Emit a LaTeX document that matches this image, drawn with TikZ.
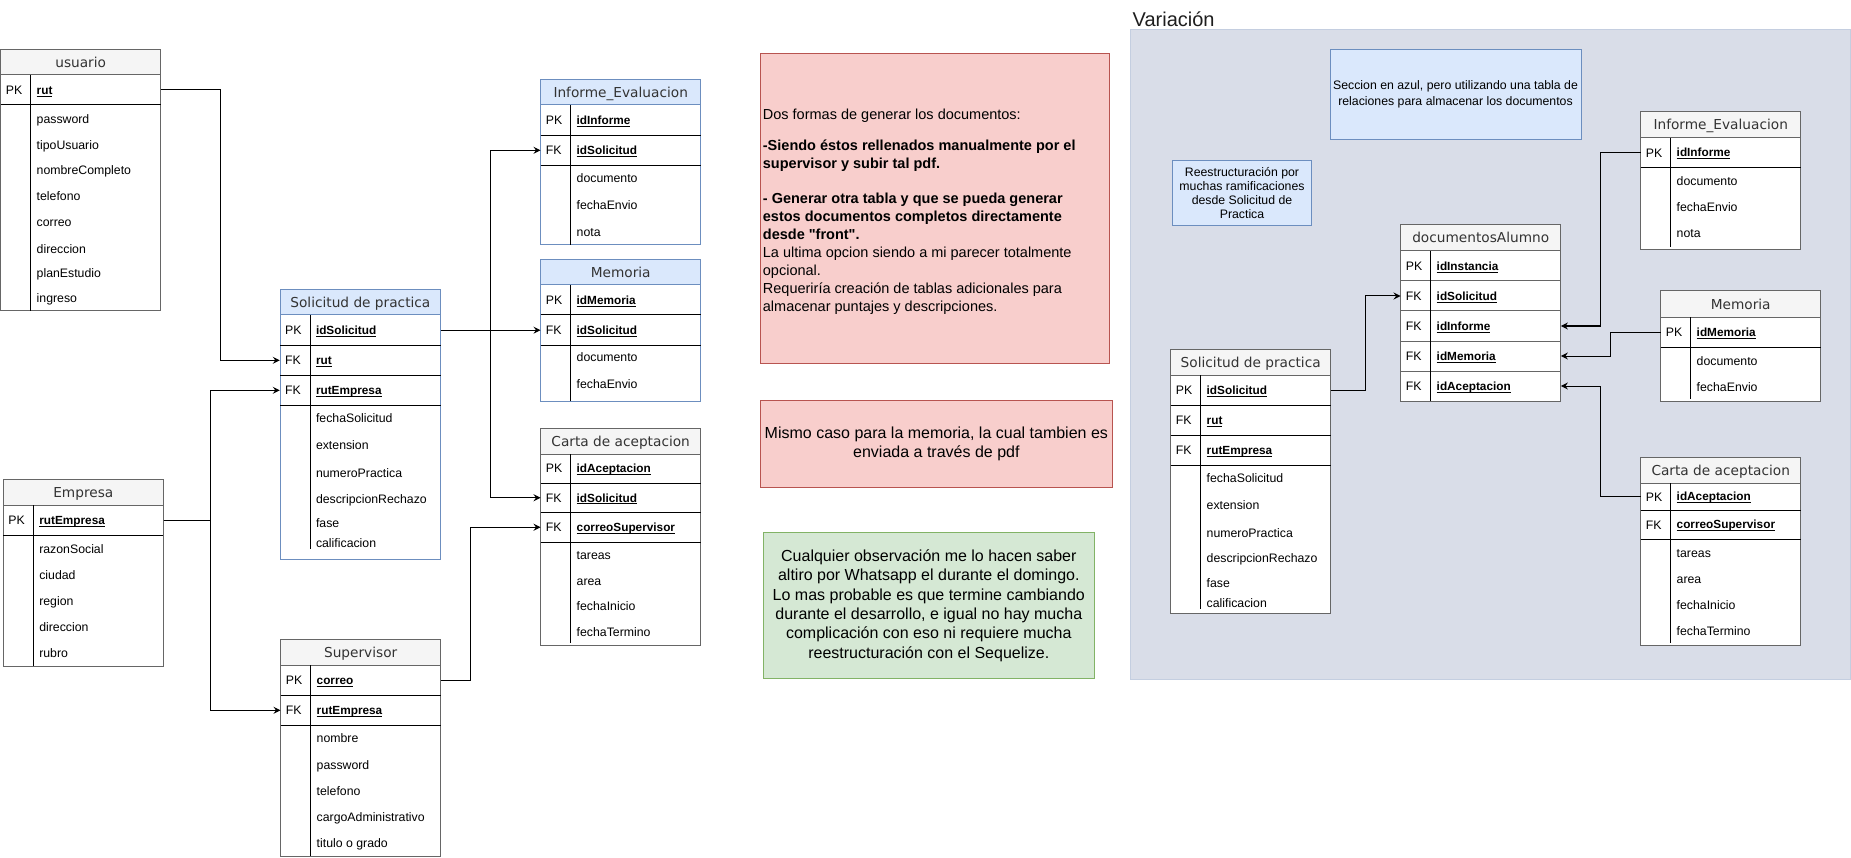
\documentclass[tikz,border=0pt]{standalone}
\usepackage{fontspec}
\setmainfont{Liberation Sans}
\newfontfamily\titlefont{DejaVu Sans}
\newfontfamily\quotefont{Liberation Sans}
\usetikzlibrary{arrows.meta,fit}

\definecolor{grayfill}{HTML}{F5F5F5}
\definecolor{graystroke}{HTML}{666666}
\definecolor{bluefill}{HTML}{DAE8FC}
\definecolor{bluestroke}{HTML}{6C8EBF}
\definecolor{redfill}{HTML}{F8CECC}
\definecolor{redstroke}{HTML}{B85450}
\definecolor{greenfill}{HTML}{D5E8D4}
\definecolor{greenstroke}{HTML}{82B366}
\definecolor{panelfill}{RGB}{217,221,232}
\definecolor{panelstroke}{RGB}{196,206,224}
\definecolor{titletext}{HTML}{333333}

\newlength\ulw
\newcommand\keyu[1]{\settowidth\ulw{#1}\rlap{\rule[-2.2pt]{\ulw}{0.9pt}}#1}

% name, x1, x2, ytop, ytitlebottom, ybottom, title, fill, stroke
\newcommand\ertable[9]{%
  \node[tblbody, draw=#9, fit={(#2,#4)(#3,#6)}] (#1) {};
  \node[tbltitle, fill=#8, draw=#9, fit={(#2,#4)(#3,#5)}] (#1-title) {};
  \node[titletxt] (#1-titletext) at ({(#2+#3)/2},{(#4+#5)/2}) {#7};
}
% name, x1, x2, ytop, ybottom, divx, tag, key, separator colour
\newcommand\keyrow[9]{%
  \node[rowbox, fit={(#2,#4)(#3,#5)}] (#1) {};
  \draw[draw=#9, line width=1pt] (#2,#5) -- (#3,#5);
  \draw[divline] (#6,#4) -- (#6,#5);
  \node[tagtxt] (#1-tag) at ({#2+5},{(#4+#5)/2}) {#7};
  \node[keytxt] (#1-key) at ({#6+5.8},{(#4+#5)/2}) {\keyu{#8}};
}
% name, x, y, text
\newcommand\fld[4]{\node[fldtxt] (#1) at (#2,#3) {#4};}

\begin{document}
\begin{tikzpicture}[x=1pt,y=-1pt,
  tblbody/.style={fill=white, line width=1pt, inner sep=0pt},
  tbltitle/.style={line width=1pt, inner sep=0pt},
  titletxt/.style={inner sep=0pt, font=\titlefont\fontsize{13.7}{16}\selectfont, text=titletext, text height=10pt, text depth=0pt},
  rowbox/.style={inner sep=0pt},
  divline/.style={line width=1pt, draw=black},
  tagtxt/.style={anchor=west, inner sep=0pt, font=\fontsize{12.3}{14}\selectfont, text height=8.8pt, text depth=0pt},
  keytxt/.style={anchor=west, inner sep=0pt, font=\bfseries\fontsize{11.8}{14}\selectfont, text height=8.5pt, text depth=0pt},
  fldtxt/.style={anchor=west, inner sep=0pt, font=\fontsize{12.3}{14}\selectfont, text height=8.8pt, text depth=0pt},
  conn/.style={line width=1pt, draw=black, -{Stealth[length=7pt,width=7pt,inset=2.5pt]}},
  notebox/.style={line width=1pt, inner sep=0pt},
  notetxt/.style={align=center, inner sep=0pt},
]
\useasboundingbox (0,0) rectangle (1851,858);
\fill[white] (0,0) rectangle (1851,858);

% ---------- Variation panel ----------
\node[notebox, fill=panelfill, draw=panelstroke, fit={(1130,29.3)(1850.5,679.3)}] (panel) {};
\node[anchor=west, inner sep=0pt, font=\fontsize{20}{24}\selectfont, text height=14.3pt, text depth=0pt, text={rgb,255:red,30;green,30;blue,30}] (vartitle) at (1132.5,19.7) {Variación};

% ---------- notes ----------
\node[notebox, fill=redfill, draw=redstroke, fit={(760,53.3)(1109.3,363.3)}] (note1) {};
\node[anchor=west, align=left, inner sep=0pt, font=\fontsize{14.5}{18}\selectfont] (note1text) at (762.7,212) {Dos formas de generar los documentos:\\[13.3pt]
\textbf{-Siendo éstos rellenados manualmente por el}\\
\textbf{supervisor y subir tal pdf.}\\[17pt]
\textbf{- Generar otra tabla y que se pueda generar}\\
\textbf{estos documentos completos directamente}\\
{\quotefont\bfseries desde "front".}\\
La ultima opcion siendo a mi parecer totalmente\\
opcional.\\
Requeriría creación de tablas adicionales para\\
almacenar puntajes y descripciones.};

\node[notebox, fill=redfill, draw=redstroke, fit={(760,400.7)(1112.7,487.7)}] (note2) {};
\node[notetxt, font=\fontsize{16}{19}\selectfont] (note2text) at (note2.center) {Mismo caso para la memoria, la cual tambien es\\ enviada a través de pdf};

\node[notebox, fill=greenfill, draw=greenstroke, fit={(763.3,532.7)(1094.3,678.7)}] (note3) {};
\node[notetxt, font=\fontsize{16}{19.3}\selectfont] (note3text) at (note3.center) {Cualquier observación me lo hacen saber\\
altiro por Whatsapp el durante el domingo.\\
Lo mas probable es que termine cambiando\\
durante el desarrollo, e igual no hay mucha\\
complicación con eso ni requiere mucha\\
reestructuración con el Sequelize.};

\node[notebox, fill=bluefill, draw=bluestroke, fit={(1330,49.3)(1581,139.3)}] (note4) {};
\node[notetxt, font=\fontsize{12.3}{16}\selectfont] (note4text) at (note4.center) {Seccion en azul, pero utilizando una tabla de\\ relaciones para almacenar los documentos};

\node[notebox, fill=bluefill, draw=bluestroke, fit={(1172.3,160.7)(1311.7,225.3)}] (note5) {};
\node[notetxt, font=\fontsize{12.3}{13.9}\selectfont] (note5text) at (note5.center) {Reestructuración por\\ muchas ramificaciones\\ desde Solicitud de\\ Practica};

% ---------- usuario ----------
\ertable{usr}{0.7}{160.7}{49.3}{75}{311}{usuario}{grayfill}{graystroke}
\keyrow{usr-rut}{0.7}{160.7}{75}{105}{30.7}{PK}{rut}{black}
\draw[divline] (30.7,105) -- (30.7,311);
\fld{usr-f1}{36.5}{119}{password}
\fld{usr-f2}{36.5}{145}{tipoUsuario}
\fld{usr-f3}{36.5}{170.5}{nombreCompleto}
\fld{usr-f4}{36.5}{196.5}{telefono}
\fld{usr-f5}{36.5}{222.5}{correo}
\fld{usr-f6}{36.5}{249}{direccion}
\fld{usr-f7}{36.5}{273.3}{planEstudio}
\fld{usr-f8}{36.5}{298.3}{ingreso}

% ---------- Solicitud de practica ----------
\ertable{sol}{280}{440.7}{289.3}{315}{559.3}{Solicitud de practica}{bluefill}{bluestroke}
\keyrow{sol-id}{280}{440.7}{315}{345.3}{310}{PK}{idSolicitud}{black}
\keyrow{sol-rut}{280}{440.7}{345.3}{375.3}{310}{FK}{rut}{black}
\keyrow{sol-emp}{280}{440.7}{375.3}{405.3}{310}{FK}{rutEmpresa}{black}
\draw[divline] (310,405.3) -- (310,549);
\fld{sol-f1}{315.8}{418.3}{fechaSolicitud}
\fld{sol-f2}{315.8}{444.7}{extension}
\fld{sol-f3}{315.8}{472.7}{numeroPractica}
\fld{sol-f4}{315.8}{498.7}{descripcionRechazo}
\fld{sol-f5}{315.8}{522.7}{fase}
\fld{sol-f6}{315.8}{542.7}{calificacion}

% ---------- Empresa ----------
\ertable{emp}{3.3}{163.3}{479.3}{505.3}{666}{Empresa}{grayfill}{graystroke}
\keyrow{emp-rut}{3.3}{163.3}{505.3}{535.3}{33.3}{PK}{rutEmpresa}{black}
\draw[divline] (33.3,535.3) -- (33.3,666);
\fld{emp-f1}{39.1}{548.7}{razonSocial}
\fld{emp-f2}{39.1}{574.7}{ciudad}
\fld{emp-f3}{39.1}{601}{region}
\fld{emp-f4}{39.1}{627}{direccion}
\fld{emp-f5}{39.1}{653}{rubro}

% ---------- Supervisor ----------
\ertable{sup}{280.7}{440.7}{639.3}{665}{856}{Supervisor}{grayfill}{graystroke}
\keyrow{sup-correo}{280.7}{440.7}{665}{695.3}{310.7}{PK}{correo}{black}
\keyrow{sup-emp}{280.7}{440.7}{695.3}{725.3}{310.7}{FK}{rutEmpresa}{black}
\draw[divline] (310.7,725.3) -- (310.7,856);
\fld{sup-f1}{316.5}{738.3}{nombre}
\fld{sup-f2}{316.5}{765}{password}
\fld{sup-f3}{316.5}{791}{telefono}
\fld{sup-f4}{316.5}{816.7}{cargoAdministrativo}
\fld{sup-f5}{316.5}{842.7}{titulo o grado}

% ---------- Informe_Evaluacion ----------
\ertable{inf}{540.7}{700.7}{79.3}{105}{245}{Informe\_Evaluacion}{bluefill}{bluestroke}
\keyrow{inf-id}{540.7}{700.7}{105}{135.3}{570.7}{PK}{idInforme}{black}
\keyrow{inf-sol}{540.7}{700.7}{135.3}{165.3}{570.7}{FK}{idSolicitud}{black}
\draw[divline] (570.7,165.3) -- (570.7,245);
\fld{inf-f1}{576.5}{178.3}{documento}
\fld{inf-f2}{576.5}{205}{fechaEnvio}
\fld{inf-f3}{576.5}{231.7}{nota}

% ---------- Memoria ----------
\ertable{mem}{540.7}{700.7}{259.3}{285}{401}{Memoria}{bluefill}{bluestroke}
\keyrow{mem-id}{540.7}{700.7}{285}{315}{570.7}{PK}{idMemoria}{black}
\keyrow{mem-sol}{540.7}{700.7}{315}{345.3}{570.7}{FK}{idSolicitud}{black}
\draw[divline] (570.7,345.3) -- (570.7,401);
\fld{mem-f1}{576.5}{357.3}{documento}
\fld{mem-f2}{576.5}{384}{fechaEnvio}

% ---------- Carta de aceptacion ----------
\ertable{car}{540.7}{700.7}{428}{454}{645}{Carta de aceptacion}{grayfill}{graystroke}
\keyrow{car-id}{540.7}{700.7}{454}{483}{570.7}{PK}{idAceptacion}{black}
\keyrow{car-sol}{540.7}{700.7}{483}{512.5}{570.7}{FK}{idSolicitud}{black}
\keyrow{car-cor}{540.7}{700.7}{512.5}{542}{570.7}{FK}{correoSupervisor}{black}
\draw[divline] (570.7,542) -- (570.7,643);
\fld{car-f1}{576.5}{555.5}{tareas}
\fld{car-f2}{576.5}{581.5}{area}
\fld{car-f3}{576.5}{606.5}{fechaInicio}
\fld{car-f4}{576.5}{632}{fechaTermino}

% ---------- right: Solicitud de practica ----------
\ertable{rsol}{1170.7}{1330.7}{349.3}{375.3}{613.3}{Solicitud de practica}{grayfill}{graystroke}
\keyrow{rsol-id}{1170.7}{1330.7}{375.3}{405.3}{1200.7}{PK}{idSolicitud}{black}
\keyrow{rsol-rut}{1170.7}{1330.7}{405.3}{435.3}{1200.7}{FK}{rut}{black}
\keyrow{rsol-emp}{1170.7}{1330.7}{435.3}{465.3}{1200.7}{FK}{rutEmpresa}{black}
\draw[divline] (1200.7,465.3) -- (1200.7,609);
\fld{rsol-f1}{1206.5}{478.3}{fechaSolicitud}
\fld{rsol-f2}{1206.5}{505}{extension}
\fld{rsol-f3}{1206.5}{532.7}{numeroPractica}
\fld{rsol-f4}{1206.5}{558.3}{descripcionRechazo}
\fld{rsol-f5}{1206.5}{582.7}{fase}
\fld{rsol-f6}{1206.5}{602.7}{calificacion}

% ---------- right: documentosAlumno ----------
\ertable{doc}{1400.7}{1560.7}{225}{251}{401}{documentosAlumno}{grayfill}{graystroke}
\keyrow{doc-inst}{1400.7}{1560.7}{251}{281}{1430.7}{PK}{idInstancia}{graystroke}
\keyrow{doc-sol}{1400.7}{1560.7}{281}{311}{1430.7}{FK}{idSolicitud}{graystroke}
\keyrow{doc-inf}{1400.7}{1560.7}{311}{341}{1430.7}{FK}{idInforme}{graystroke}
\keyrow{doc-mem}{1400.7}{1560.7}{341}{371}{1430.7}{FK}{idMemoria}{graystroke}
\keyrow{doc-acep}{1400.7}{1560.7}{371}{401}{1430.7}{FK}{idAceptacion}{graystroke}

% ---------- right: Informe_Evaluacion ----------
\ertable{rinf}{1640.7}{1800.7}{111.7}{137.7}{249.3}{Informe\_Evaluacion}{grayfill}{graystroke}
\keyrow{rinf-id}{1640.7}{1800.7}{137.7}{167.7}{1670.7}{PK}{idInforme}{black}
\draw[divline] (1670.7,167.7) -- (1670.7,247);
\fld{rinf-f1}{1676.5}{180.7}{documento}
\fld{rinf-f2}{1676.5}{206.7}{fechaEnvio}
\fld{rinf-f3}{1676.5}{232.7}{nota}

% ---------- right: Memoria ----------
\ertable{rmem}{1660.7}{1820.7}{290.7}{317.3}{401}{Memoria}{grayfill}{graystroke}
\keyrow{rmem-id}{1660.7}{1820.7}{317.3}{347.3}{1690.7}{PK}{idMemoria}{black}
\draw[divline] (1690.7,347.3) -- (1690.7,399);
\fld{rmem-f1}{1696.5}{360.7}{documento}
\fld{rmem-f2}{1696.5}{386.7}{fechaEnvio}

% ---------- right: Carta de aceptacion ----------
\ertable{rcar}{1640.7}{1800.7}{457.3}{483.3}{645}{Carta de aceptacion}{grayfill}{graystroke}
\keyrow{rcar-id}{1640.7}{1800.7}{483.3}{510}{1670.7}{PK}{idAceptacion}{black}
\keyrow{rcar-cor}{1640.7}{1800.7}{510}{539.3}{1670.7}{FK}{correoSupervisor}{black}
\draw[divline] (1670.7,539.3) -- (1670.7,643);
\fld{rcar-f1}{1676.5}{552.7}{tareas}
\fld{rcar-f2}{1676.5}{579.3}{area}
\fld{rcar-f3}{1676.5}{605}{fechaInicio}
\fld{rcar-f4}{1676.5}{630.7}{fechaTermino}

% ---------- connectors ----------
\draw[conn] (usr-rut.east) -- ++(60,0) |- (sol-rut.west);
\draw[conn] (emp-rut.east) -- ++(46.7,0) |- (sol-emp.west);
\draw[conn] (emp-rut.east) -- ++(46.7,0) |- (sup-emp.west);
\draw[conn] (sol-id.east) -- (mem-sol.west);
\draw[conn] (sol-id.east) -- ++(49.3,0) |- (inf-sol.west);
\draw[conn] (sol-id.east) -- ++(49.3,0) |- (car-sol.west);
\draw[conn] (sup-correo.east) -- ++(30,0) |- (car-cor.west);

\draw[conn] (rsol-id.east) -- ++(35,0) |- (doc-sol.west);
\draw[conn] (rinf-id.west) -- ++(-40,0) |- (doc-inf.east);
\draw[conn] (rmem-id.west) -- ++(-50,0) |- (doc-mem.east);
\draw[conn] (rcar-id.west) -- ++(-40,0) |- (doc-acep.east);
\end{tikzpicture}
\end{document}
